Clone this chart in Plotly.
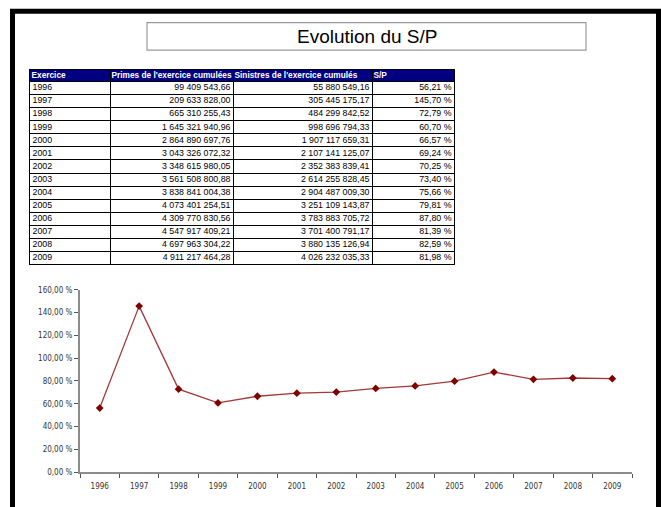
import plotly.graph_objects as go

# ---- data ----
years = ["1996", "1997", "1998", "1999", "2000", "2001", "2002",
         "2003", "2004", "2005", "2006", "2007", "2008", "2009"]
primes = [99409543.66, 209633828.00, 665310255.43, 1645321940.96, 2864890697.76,
          3043326072.32, 3348615980.05, 3561508800.88, 3838841004.38, 4073401254.51,
          4309770830.56, 4547917409.21, 4697963304.22, 4911217464.28]
sinistres = [55880549.16, 305445175.17, 484299842.52, 998696794.33, 1907117659.31,
             2107141125.07, 2352383839.41, 2614255828.45, 2904487009.30, 3251109143.87,
             3783883705.72, 3701400791.17, 3880135126.94, 4026232035.33]
sp = [56.21, 145.70, 72.79, 60.70, 66.57, 69.24, 70.25,
      73.40, 75.66, 79.81, 87.80, 81.39, 82.59, 81.98]
headers = ["Exercice", "Primes de l'exercice cumulées", "Sinistres de l'exercice cumulés", "S/P"]
y_ticks = [0, 20, 40, 60, 80, 100, 120, 140, 160]
title_text = "Evolution du S/P"


def fr_num(v):
    return f"{v:,.2f}".replace(",", " ").replace(".", ",")


def fr_pct(v):
    return f"{v:.2f}".replace(".", ",") + " %"


W, H = 661, 507


def px(x):
    return x / W


def py(y):
    return 1 - y / H


# ---- table layout (pixel units inside the table axes) ----
col_bounds = [0, 80, 203, 342, 424]
header_h, row_h = 12, 13.3
n = len(years)
row_bounds = [0, header_h] + [header_h + row_h * (i + 1) for i in range(n)]
table_h = row_bounds[-1]
row_centers = [header_h + row_h * (i + 0.5) for i in range(n)]
pad = 2.5
TOP = 67

columns = [years, [fr_num(v) for v in primes], [fr_num(v) for v in sinistres],
           [fr_pct(v) for v in sp]]

fig = go.Figure()

body_font = dict(family="Arial, Liberation Sans", size=8.8, color="black")
for ci, col in enumerate(columns):
    if ci == 0:
        xpos, tpos = col_bounds[0] + pad, "middle right"
    else:
        xpos, tpos = col_bounds[ci + 1] - pad, "middle left"
    fig.add_trace(go.Scatter(
        x=[xpos] * n, y=row_centers, text=col, mode="text",
        textposition=tpos, textfont=body_font,
        xaxis="x2", yaxis="y2", hoverinfo="skip", showlegend=False, cliponaxis=False,
    ))
fig.add_trace(go.Scatter(
    x=[b + 1.5 for b in col_bounds[:-1]], y=[header_h / 2] * len(headers),
    text=[f"<b>{h}</b>" for h in headers], mode="text", textposition="middle right",
    textfont=dict(family="Arial, Liberation Sans", size=8.3, color="white"),
    xaxis="x2", yaxis="y2", hoverinfo="skip", showlegend=False, cliponaxis=False,
))

# header fill
fig.add_shape(type="rect", xref="x2", yref="y2", x0=col_bounds[0], x1=col_bounds[-1],
              y0=0, y1=header_h, fillcolor="#000080", line=dict(width=0), layer="below")

# ---- S/P line ----
fig.add_trace(go.Scatter(
    x=years, y=sp, mode="lines+markers",
    line=dict(color="#A33A3A", width=1.3),
    marker=dict(symbol="diamond", size=6, color="#800000"),
    showlegend=False, cliponaxis=False, xaxis="x", yaxis="y",
))

tick_font = dict(family="DejaVu Sans Condensed, Tahoma", size=8, color="#333333")
fig.update_layout(
    xaxis=dict(
        domain=[px(80), px(632)], type="category", anchor="y",
        range=[-0.5, len(years) - 0.5],
        showline=True, linecolor="#8C8C8C", linewidth=1.5,
        ticks="outside", tickson="boundaries", ticklen=4, tickcolor="#555555", tickwidth=1,
        ticklabelstandoff=6,
        showgrid=False, zeroline=False, tickfont=tick_font, fixedrange=True,
    ),
    yaxis=dict(
        domain=[py(476.5), py(291)], range=[0, 160], anchor="x",
        tickvals=y_ticks, ticktext=[fr_pct(v) for v in y_ticks],
        showline=True, linecolor="#8C8C8C", linewidth=2,
        ticks="outside", ticklen=4, tickcolor="#555555", tickwidth=1,
        showgrid=False, zeroline=False, tickfont=tick_font, fixedrange=True,
    ),
    xaxis2=dict(
        domain=[px(30), px(30 + col_bounds[-1])], range=[0, col_bounds[-1]], anchor="y2",
        tickvals=col_bounds, showticklabels=False, ticks="",
        showgrid=True, gridcolor="black", gridwidth=1, zeroline=False,
        showline=True, mirror=True, linecolor="black", linewidth=1, fixedrange=True,
    ),
    yaxis2=dict(
        domain=[py(TOP + table_h), py(TOP)], range=[table_h, 0], anchor="x2",
        tickvals=row_bounds, showticklabels=False, ticks="",
        showgrid=True, gridcolor="black", gridwidth=1, zeroline=False,
        showline=True, mirror=True, linecolor="black", linewidth=1, fixedrange=True,
    ),
)

# outer black frame
fig.add_shape(type="rect", xref="paper", yref="paper",
              x0=px(12.5), x1=px(658.5), y0=py(530), y1=py(7.5),
              line=dict(color="black", width=5), fillcolor="rgba(0,0,0,0)", layer="above")
# title box
fig.add_shape(type="rect", xref="paper", yref="paper",
              x0=px(147), x1=px(586), y0=py(47), y1=py(19),
              line=dict(color="#9A9A9A", width=1.2), fillcolor="white")
fig.add_annotation(xref="paper", yref="paper", x=px(366.5), y=py(33.5),
                   text=title_text, showarrow=False,
                   font=dict(family="Arial, Liberation Sans", size=19, color="black"),
                   xanchor="center", yanchor="middle")

fig.update_layout(
    width=W, height=H, margin=dict(l=0, r=0, t=0, b=0),
    paper_bgcolor="white", plot_bgcolor="white", showlegend=False,
)

fig.write_html("out.html", config={"displayModeBar": False},
               post_script="document.body.style.margin='0';document.body.style.overflow='hidden';")
